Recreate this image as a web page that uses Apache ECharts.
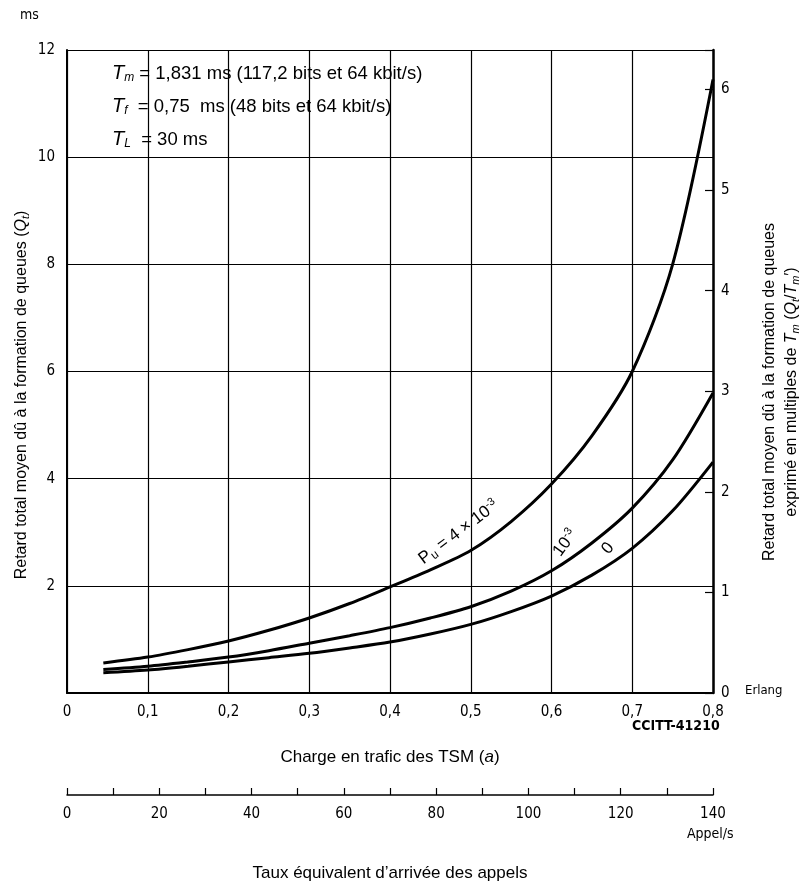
<!DOCTYPE html>
<html>
<head>
<meta charset="utf-8">
<script src="https://cdn.jsdelivr.net/npm/echarts@6/dist/echarts.min.js"></script>
<style>
  html, body { margin: 0; padding: 0; background: #fff; }
  #chart { width: 803px; height: 890px; }
</style>
</head>
<body>
<div id="chart"></div>
<script>
// ---- data ----
const load = [0.045, 0.1, 0.15, 0.2, 0.25, 0.3, 0.35, 0.4, 0.45, 0.5, 0.55, 0.6, 0.65, 0.7, 0.75, 0.8]; // Erlang
const delayPu4e3 = [0.56, 0.67, 0.81, 0.97, 1.17, 1.40, 1.67, 1.98, 2.30, 2.66, 3.20, 3.90, 4.80, 6.00, 8.00, 11.45]; // ms
const delayPu1e3 = [0.44, 0.50, 0.58, 0.67, 0.79, 0.93, 1.07, 1.22, 1.40, 1.61, 1.90, 2.28, 2.80, 3.45, 4.35, 5.60];
const delayPu0   = [0.38, 0.43, 0.50, 0.58, 0.66, 0.74, 0.84, 0.95, 1.10, 1.28, 1.52, 1.81, 2.20, 2.70, 3.40, 4.31];
const msTicks = [0, 2, 4, 6, 8, 10, 12];
const tmUnitMs = 1.877;          // right axis: one unit in ms (as drawn)
const rateTicks = [0, 20, 40, 60, 80, 100, 120, 140]; // Appel/s

const pairs = (ys) => load.map((x, i) => [x, ys[i]]);

const condensed = '"DejaVu Sans Condensed", "Liberation Sans Narrow", sans-serif';
const sans = '"Liberation Sans", Arial, sans-serif';

const chart = echarts.init(document.getElementById('chart'));

const lineStyle = { color: '#000', width: 3 };

function curveLabel(coord, fmt, rot, rich) {
  return {
    symbol: 'circle', symbolSize: 0, silent: true,
    data: [{ coord: coord, value: 0 }],
    label: {
      show: true, position: 'inside', formatter: fmt, rotate: rot,
      color: '#000', fontFamily: sans, fontSize: 17, rich: rich
    }
  };
}

const subSup = {
  sub: { fontSize: 12, fontFamily: sans, padding: [8, 0, 0, 0], color: '#000' },
  sup: { fontSize: 11, fontFamily: sans, padding: [0, 0, 9, 0], color: '#000' }
};

const option = {
  backgroundColor: '#fff',
  animation: false,
  grid: [
    { left: 67, right: 90, top: 50, bottom: 197, containLabel: false },
    { left: 67, right: 90, top: 794, height: 1, containLabel: false }
  ],
  xAxis: [
    {
      type: 'value', gridIndex: 0, min: 0, max: 0.8, interval: 0.1,
      axisLine: { show: true, lineStyle: { color: '#000', width: 2 } },
      axisTick: { show: false },
      splitLine: { show: true, lineStyle: { color: '#000', width: 1.2 } },
      axisLabel: {
        color: '#000', fontFamily: condensed, fontSize: 15, margin: 12,
        formatter: (v) => v === 0 ? '0' : String(Math.round(v * 10) / 10).replace('.', ',')
      },
      name: 'Charge en trafic des TSM ({i|a})',
      nameLocation: 'middle', nameGap: 56,
      nameTextStyle: {
        color: '#000', fontFamily: sans, fontSize: 17,
        rich: { i: { fontStyle: 'italic', fontFamily: sans, fontSize: 17, color: '#000' } }
      }
    },
    {
      type: 'value', gridIndex: 1, min: 0, max: 140, interval: 10,
      axisLine: { show: true, onZero: false, lineStyle: { color: '#000', width: 1.5 } },
      axisTick: { show: true, inside: true, length: 7, lineStyle: { color: '#000', width: 1.2 } },
      splitLine: { show: false },
      axisLabel: {
        color: '#000', fontFamily: condensed, fontSize: 15, margin: 12,
        formatter: (v) => rateTicks.indexOf(v) >= 0 ? String(v) : ''
      },
      name: 'Taux équivalent d\u2019arrivée des appels',
      nameLocation: 'middle', nameGap: 70,
      nameTextStyle: { color: '#000', fontFamily: sans, fontSize: 17 }
    }
  ],
  yAxis: [
    {
      type: 'value', gridIndex: 0, min: 0, max: 12, interval: 2, position: 'left',
      axisLine: { show: true, lineStyle: { color: '#000', width: 2 } },
      axisTick: { show: false },
      splitLine: { show: true, lineStyle: { color: '#000', width: 1.2 } },
      axisLabel: {
        color: '#000', fontFamily: condensed, fontSize: 15, margin: 12,
        formatter: (v) => (v === 0 || msTicks.indexOf(v) < 0) ? '' : String(v)
      }
    },
    {
      type: 'value', gridIndex: 0, min: 0, max: 12 / tmUnitMs, interval: 1, position: 'right',
      axisLine: { show: true, lineStyle: { color: '#000', width: 2.5 } },
      axisTick: { show: true, inside: true, length: 8, lineStyle: { color: '#000', width: 1.2 } },
      splitLine: { show: false },
      axisLabel: {
        color: '#000', fontFamily: condensed, fontSize: 15, margin: 8,
        formatter: (v) => Math.abs(v - Math.round(v)) < 1e-6 ? String(Math.round(v)) : ''
      }
    },
    {
      type: 'value', gridIndex: 1, min: 0, max: 1, show: false
    }
  ],
  graphic: [
    { type: 'text', left: 20, top: 8, style: { text: 'ms', fontFamily: condensed, fontSize: 14, fill: '#000' } },
    { type: 'text', x: 745, y: 684, style: { text: 'Erlang', fontFamily: condensed, fontSize: 13, fill: '#000' } },
    { type: 'text', x: 632, y: 719, style: { text: 'CCITT-41210', fontFamily: condensed, fontSize: 14, fontWeight: 'bold', fill: '#000' } },
    { type: 'text', x: 687, y: 827, style: { text: 'Appel/s', fontFamily: condensed, fontSize: 14, fill: '#000' } },
    {
      type: 'text', x: 112, y: 57,
      style: {
        text: '{t|T}{s|m} = 1,831 ms (117,2 bits et 64 kbit/s)\n{t|T}{s|f}  = 0,75  ms (48 bits et 64 kbit/s)\n{t|T}{s|L}  = 30 ms',
        fontFamily: sans, fontSize: 18.5, fill: '#000', lineHeight: 33,
        rich: {
          t: { fontStyle: 'italic', fontFamily: sans, fontSize: 20, fill: '#000', lineHeight: 33 },
          s: { fontStyle: 'italic', fontFamily: sans, fontSize: 12, fill: '#000', padding: [9, 0, 0, 0], lineHeight: 33 }
        }
      }
    },
    {
      type: 'text', x: 22, y: 395, rotation: Math.PI / 2,
      style: {
        text: 'Retard total moyen dû à la formation de queues ({i|Q}{s|t})',
        fontFamily: sans, fontSize: 16, fill: '#000', align: 'center', verticalAlign: 'middle',
        rich: {
          i: { fontStyle: 'italic', fontFamily: sans, fontSize: 16, fill: '#000' },
          s: { fontStyle: 'italic', fontFamily: sans, fontSize: 11, fill: '#000', padding: [7, 0, 0, 0] }
        }
      }
    },
    {
      type: 'text', x: 781, y: 392, rotation: Math.PI / 2,
      style: {
        text: 'Retard total moyen dû à la formation de queues\nexprimé en multiples de {i|T}{s|m} ({i|Q}{s|t}/{i|T}{s|m}\u2032)',
        fontFamily: sans, fontSize: 16, fill: '#000', align: 'center', verticalAlign: 'middle', lineHeight: 22,
        rich: {
          i: { fontStyle: 'italic', fontFamily: sans, fontSize: 16, fill: '#000', lineHeight: 22 },
          s: { fontStyle: 'italic', fontFamily: sans, fontSize: 11, fill: '#000', padding: [7, 0, 0, 0], lineHeight: 22 }
        }
      }
    }
  ],
  series: [
    {
      type: 'line', name: 'Pu = 4e-3', xAxisIndex: 0, yAxisIndex: 0,
      data: pairs(delayPu4e3), smooth: 0.3,
      showSymbol: false, lineStyle: lineStyle, z: 5,
      markPoint: curveLabel([0.485, 3.0], 'P{sub|u} = 4 × 10{sup|-3}', 37, subSup)
    },
    {
      type: 'line', name: 'Pu = 1e-3', xAxisIndex: 0, yAxisIndex: 0,
      data: pairs(delayPu1e3), smooth: 0.3,
      showSymbol: false, lineStyle: lineStyle, z: 5,
      markPoint: curveLabel([0.617, 2.8], '10{sup|-3}', 54, subSup)
    },
    {
      type: 'line', name: 'Pu = 0', xAxisIndex: 0, yAxisIndex: 0,
      data: pairs(delayPu0), smooth: 0.3,
      showSymbol: false, lineStyle: lineStyle, z: 5,
      markPoint: curveLabel([0.67, 2.7], '0', 50, subSup)
    }
  ]
};

chart.setOption(option);
</script>
</body>
</html>
